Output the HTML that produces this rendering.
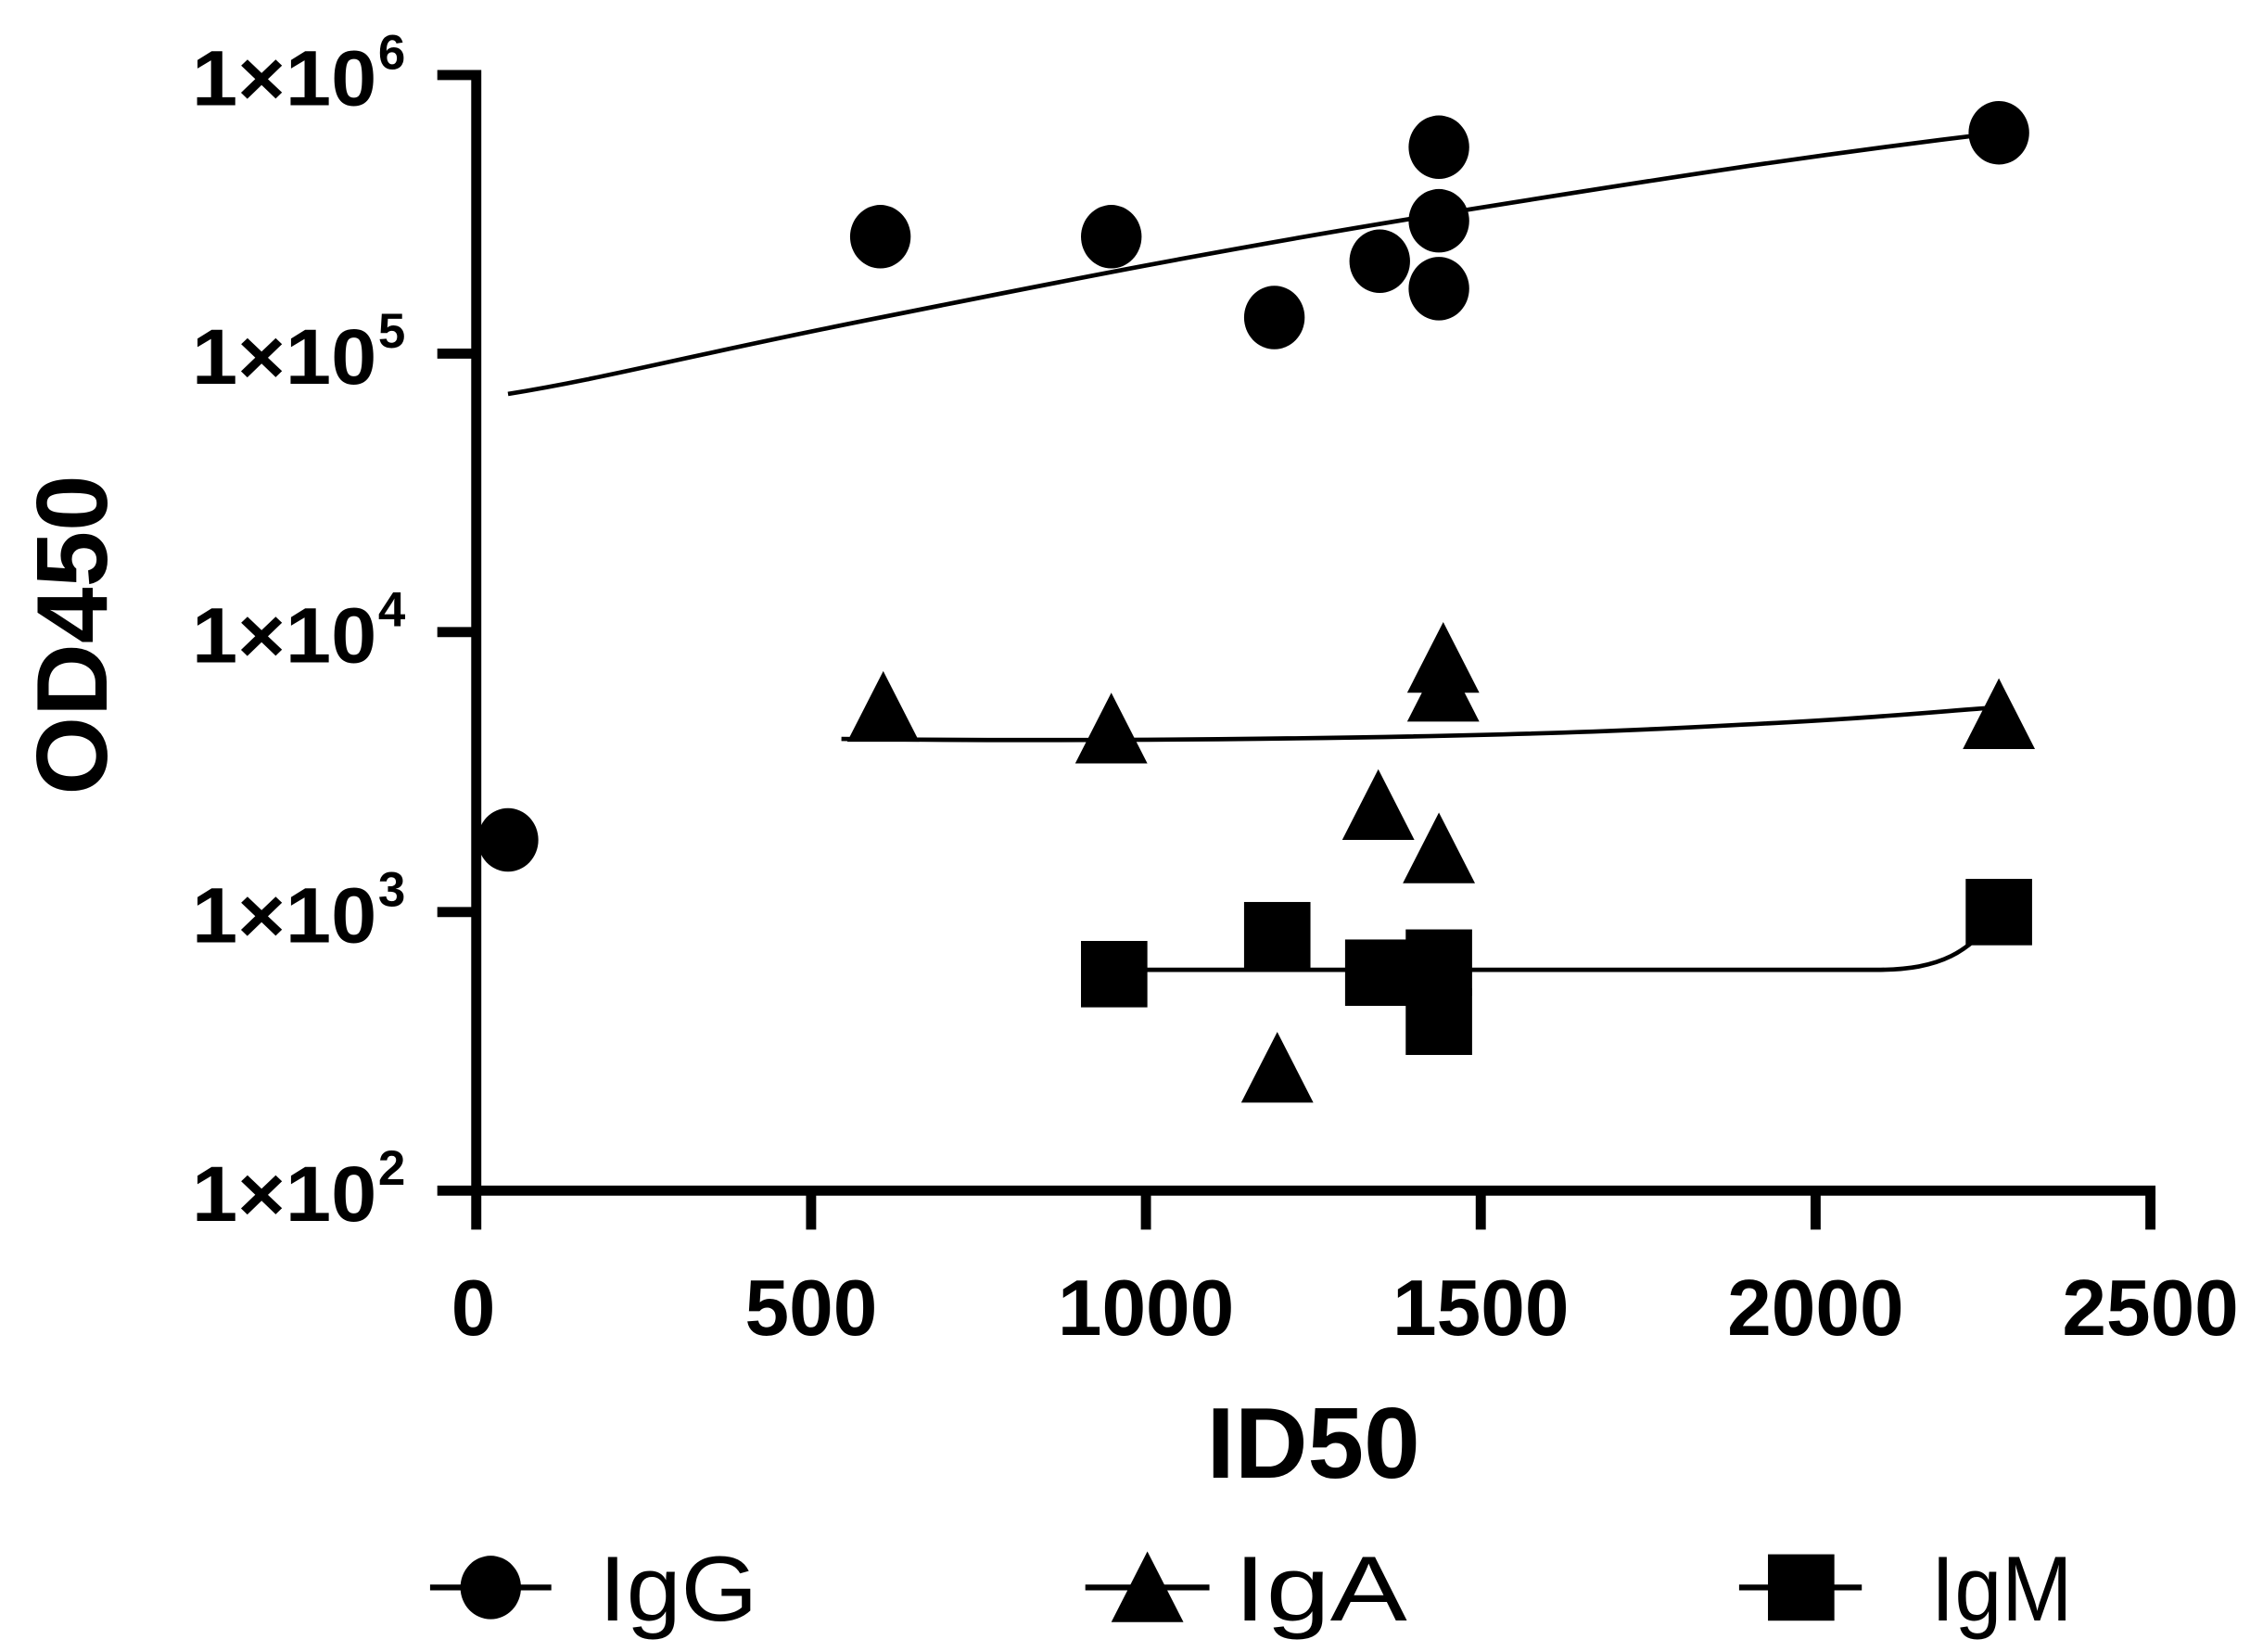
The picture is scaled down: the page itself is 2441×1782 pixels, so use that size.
<!DOCTYPE html>
<html><head><meta charset="utf-8"><style>
html,body{margin:0;padding:0;background:#fff;}
svg{display:block;}
text{font-family:"Liberation Sans",Arial,sans-serif;fill:#000;}
.b{font-weight:bold;}
</style></head><body>
<svg width="2441" height="1782" viewBox="0 0 1568 1144.7" preserveAspectRatio="none" xmlns="http://www.w3.org/2000/svg">
<g stroke="#000" stroke-width="7" fill="none" stroke-linecap="butt">
<line x1="330" y1="48.5" x2="330" y2="852"/>
<line x1="303" y1="825" x2="1493.5" y2="825"/>
<line x1="303" y1="52" x2="330" y2="52"/>
<line x1="303" y1="245" x2="330" y2="245"/>
<line x1="303" y1="438" x2="330" y2="438"/>
<line x1="303" y1="632" x2="330" y2="632"/>
<line x1="562" y1="825" x2="562" y2="852"/>
<line x1="794" y1="825" x2="794" y2="852"/>
<line x1="1026" y1="825" x2="1026" y2="852"/>
<line x1="1258" y1="825" x2="1258" y2="852"/>
<line x1="1490" y1="825" x2="1490" y2="852"/>
</g>
<g class="b" font-size="54">
<text x="133" y="73" textLength="128" lengthAdjust="spacingAndGlyphs">1×10</text><text x="262" y="48" font-size="34">6</text>
<text x="133" y="266" textLength="128" lengthAdjust="spacingAndGlyphs">1×10</text><text x="262" y="241" font-size="34">5</text>
<text x="133" y="459" textLength="128" lengthAdjust="spacingAndGlyphs">1×10</text><text x="262" y="434" font-size="34">4</text>
<text x="133" y="653" textLength="128" lengthAdjust="spacingAndGlyphs">1×10</text><text x="262" y="628" font-size="34">3</text>
<text x="133" y="846" textLength="128" lengthAdjust="spacingAndGlyphs">1×10</text><text x="262" y="821" font-size="34">2</text>
</g>
<g class="b" font-size="55" text-anchor="middle">
<text x="328" y="925">0</text>
<text x="562" y="925">500</text>
<text x="794" y="925">1000</text>
<text x="1026" y="925">1500</text>
<text x="1258" y="925">2000</text>
<text x="1490" y="925">2500</text>
</g>
<text class="b" x="910" y="1024" font-size="70" text-anchor="middle">ID50</text>
<text class="b" x="0" y="0" font-size="70" text-anchor="middle" transform="translate(74,440) rotate(-90)">OD450</text>
<g stroke="#000" stroke-width="3" fill="none">
<path d="M352,273 C420,262 470,248 600,222 S850,172 1000,148 S1250,108 1385,92"/>
<path d="M583,512 C750,514 1000,512 1150,505 S1330,494 1385,490"/>
<path d="M772,672 L1300,672 C1345,672 1365,660 1385,632"/>
</g>
<g fill="#000">
<ellipse cx="352" cy="582" rx="21" ry="22"/>
<ellipse cx="610" cy="164" rx="21" ry="22"/>
<ellipse cx="770" cy="164" rx="21" ry="22"/>
<ellipse cx="883" cy="220" rx="21" ry="22"/>
<ellipse cx="956" cy="181" rx="21" ry="22"/>
<ellipse cx="997" cy="102" rx="21" ry="22"/>
<ellipse cx="997" cy="153" rx="21" ry="22"/>
<ellipse cx="997" cy="200" rx="21" ry="22"/>
<ellipse cx="1385" cy="92" rx="21" ry="22"/>
</g>
<g fill="#000">
<polygon points="612,465 587,514 637,514"/>
<polygon points="770,480 745,529 795,529"/>
<polygon points="955,533 930,582 980,582"/>
<polygon points="997,563 972,612 1022,612"/>
<polygon points="1000,451 975,500 1025,500"/>
<polygon points="1000,431 975,480 1025,480"/>
<polygon points="885,715 860,764 910,764"/>
<polygon points="1385,470 1360,519 1410,519"/>
</g>
<g fill="#000">
<rect x="749" y="652" width="46" height="46"/>
<rect x="862" y="625" width="46" height="46"/>
<rect x="932" y="651" width="46" height="46"/>
<rect x="974" y="644" width="46" height="46"/>
<rect x="974" y="685" width="46" height="46"/>
<rect x="1362" y="609" width="46" height="46"/>
</g>
<g stroke="#000" stroke-width="4">
<line x1="298" y1="1100" x2="382" y2="1100"/>
<line x1="752" y1="1100" x2="838" y2="1100"/>
<line x1="1205" y1="1100" x2="1290" y2="1100"/>
</g>
<ellipse cx="340" cy="1100" rx="21" ry="22" fill="#000"/>
<polygon points="795,1075 770,1124 820,1124" fill="#000"/>
<rect x="1225" y="1077" width="46" height="46" fill="#000"/>
<g font-size="64">
<text x="415" y="1123" textLength="110" lengthAdjust="spacingAndGlyphs">IgG</text>
<text x="855" y="1123" textLength="120" lengthAdjust="spacingAndGlyphs">IgA</text>
<text x="1338" y="1123" textLength="98" lengthAdjust="spacingAndGlyphs">IgM</text>
</g>
</svg>
</body></html>
